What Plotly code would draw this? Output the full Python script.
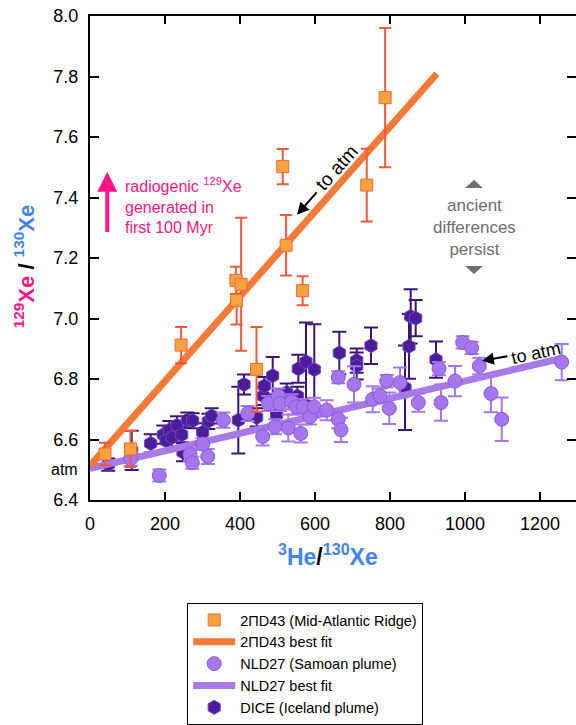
import plotly.graph_objects as go

# ---- 2ΠD43 (Mid-Atlantic Ridge) ----
mar_he = [40, 108, 243, 389, 403, 391, 444, 514, 523, 567, 738, 787]
mar_xe = [6.552, 6.569, 6.912, 7.126, 7.113, 7.060, 6.832, 7.502, 7.242, 7.092, 7.441, 7.730]
mar_err = [0.037, 0.060, 0.060, 0.045, 0.220, 0.080, 0.140, 0.058, 0.100, 0.048, 0.120, 0.230]
mar_fit_he = [0, 925]
mar_fit_xe = [6.513, 7.809]

# ---- NLD27 (Samoan plume) ----
sam_he = [108.5, 184.8, 266.7, 272.8, 300.5, 313.9, 355.5, 420.5, 460.5, 475.5,
          493.3, 502.0, 506.7, 528.8, 537.9, 549.3, 561.9, 568.8, 586.7, 597.3,
          631.2, 662.1, 669.3, 662.1, 704.0, 753.9, 773.3, 791.2, 798.1, 826.7,
          875.5, 930.7, 936.0, 973.3, 993.9, 1017.9, 1038.1, 1069.3, 1097.9, 1257.9]
sam_xe = [6.536, 6.481, 6.550, 6.523, 6.585, 6.544, 6.664, 6.686, 6.610, 6.719,
          6.642, 6.744, 6.719, 6.638, 6.725, 6.708, 6.620, 6.708, 6.675, 6.708,
          6.697, 6.667, 6.632, 6.806, 6.782, 6.733, 6.744, 6.793, 6.703, 6.788,
          6.722, 6.834, 6.722, 6.793, 6.921, 6.903, 6.843, 6.752, 6.667, 6.856]
sam_err = [0.023, 0.020, 0.020, 0.020, 0.020, 0.025, 0.025, 0.025, 0.030, 0.025,
           0.025, 0.025, 0.025, 0.045, 0.025, 0.025, 0.030, 0.025, 0.025, 0.030,
           0.033, 0.030, 0.040, 0.020, 0.060, 0.043, 0.025, 0.020, 0.052, 0.050,
           0.030, 0.022, 0.060, 0.050, 0.020, 0.020, 0.027, 0.062, 0.072, 0.060]
sam_fit_he = [0, 1258]
sam_fit_xe = [6.505, 6.868]

# ---- DICE (Iceland plume) ----
ice_he = [48.8, 111.2, 161.9, 195.5, 202.7, 211.5, 218.7, 232.0, 244.5, 248.0,
          259.5, 273.9, 300.5, 315.5, 324.5, 395.5, 410.7, 444.5, 462.1, 464.8,
          487.2, 497.9, 524.5, 552.8, 555.5, 576.0, 598.1, 664.8, 711.2, 711.2,
          749.3, 840.0, 850.7, 855.2, 868.5, 922.7]
ice_xe = [6.517, 6.564, 6.587, 6.616, 6.596, 6.631, 6.607, 6.647, 6.616, 6.558,
          6.664, 6.662, 6.624, 6.660, 6.678, 6.664, 6.782, 6.673, 6.744, 6.777,
          6.811, 6.682, 6.755, 6.744, 6.834, 6.857, 6.831, 6.886, 6.861, 6.843,
          6.910, 6.771, 6.908, 7.007, 7.001, 6.864]
ice_err = [0.020, 0.065, 0.030, 0.030, 0.030, 0.030, 0.030, 0.030, 0.025, 0.030,
           0.025, 0.025, 0.030, 0.025, 0.025, 0.110, 0.033, 0.030, 0.030, 0.030,
           0.062, 0.030, 0.030, 0.030, 0.046, 0.130, 0.150, 0.070, 0.040, 0.045,
           0.060, 0.140, 0.107, 0.090, 0.060, 0.060]

# axis ticks
x_ticks = [0, 200, 400, 600, 800, 1000, 1200]
y_ticks = [6.4, 6.6, 6.8, 7.0, 7.2, 7.4, 7.6, 7.8, 8.0]

FONT = "Liberation Sans, Arial, Helvetica, sans-serif"
PINK = "#ff1585"
BLUE = "#4383f0"
ORANGE_FILL = "#f6a23e"
ORANGE_EDGE = "#f0683c"
ORANGE_ERR = "#f05a3a"
ORANGE_LINE = "#f47a38"
LAV_FILL = "#a577ec"
LAV_EDGE = "#8a5bd8"
LAV_LINE = "#a87ae8"
DICE_FILL = "#4b1d98"
DICE_EDGE = "#6c43c4"
DICE_ERR = "#3c1478"

fig = go.Figure()

fig.add_trace(go.Scatter(
    x=ice_he, y=ice_xe, mode="markers", name="DICE (Iceland plume)",
    marker=dict(symbol="hexagon", size=14, color=DICE_FILL,
                line=dict(color=DICE_EDGE, width=1)),
    error_y=dict(type="data", array=ice_err, color=DICE_ERR, thickness=2, width=7),
    legendrank=5,
))
fig.add_trace(go.Scatter(
    x=sam_fit_he, y=sam_fit_xe, mode="lines", name="NLD27 best fit",
    line=dict(color=LAV_LINE, width=7), legendrank=4,
))
fig.add_trace(go.Scatter(
    x=sam_he, y=sam_xe, mode="markers", name="NLD27 (Samoan plume)",
    marker=dict(symbol="circle", size=14, color=LAV_FILL,
                line=dict(color=LAV_EDGE, width=1)),
    error_y=dict(type="data", array=sam_err, color=LAV_FILL, thickness=2, width=7),
    legendrank=3,
))
fig.add_trace(go.Scatter(
    x=mar_fit_he, y=mar_fit_xe, mode="lines", name="2ΠD43 best fit",
    line=dict(color=ORANGE_LINE, width=7), legendrank=2,
))
fig.add_trace(go.Scatter(
    x=mar_he, y=mar_xe, mode="markers", name="2ΠD43 (Mid-Atlantic Ridge)",
    marker=dict(symbol="square", size=12, color=ORANGE_FILL,
                line=dict(color=ORANGE_EDGE, width=1)),
    error_y=dict(type="data", array=mar_err, color=ORANGE_ERR, thickness=2, width=6),
    legendrank=1,
))
# empty trace carrying the right-hand tick axis
fig.add_trace(go.Scatter(x=[None], y=[None], yaxis="y2", showlegend=False,
                         hoverinfo="skip"))

axis_common = dict(showgrid=False, zeroline=False, ticks="inside", tickwidth=2,
                   tickcolor="black", tickfont=dict(family=FONT, size=18, color="black"))

fig.update_layout(
    width=576, height=725,
    margin=dict(l=90, r=0, t=16, b=222),
    paper_bgcolor="white", plot_bgcolor="white",
    font=dict(family=FONT, color="black"),
    xaxis=dict(range=[0, 1296], tickvals=x_ticks, ticklen=8, showline=True,
               linewidth=2, linecolor="black", mirror="ticks",
               ticklabelstandoff=6, **axis_common),
    yaxis=dict(range=[6.4, 8.0], tickvals=y_ticks, tickformat=".1f", ticklen=9,
               showline=True, linewidth=2, linecolor="black", mirror=False,
               ticklabelstandoff=6, **axis_common),
    yaxis2=dict(range=[6.4, 8.0], tickvals=y_ticks, overlaying="y", side="right",
                ticklen=9, showline=False, showticklabels=False, **axis_common),
    legend=dict(x=0.2, y=-0.214, xanchor="left", yanchor="top",
                bordercolor="black", borderwidth=1, bgcolor="white",
                font=dict(family=FONT, size=14.5, color="black"),
                itemwidth=42, traceorder="normal"),
    showlegend=True,
)

annotations = [
    # axis titles
    dict(xref="paper", yref="paper", x=0.49, y=-0.113, xanchor="center", yanchor="middle",
         showarrow=False, font=dict(family=FONT, size=23),
         text=f"<b><span style='color:{BLUE}'><sup>3</sup>He</span>/"
              f"<span style='color:{BLUE}'><sup>130</sup>Xe</span></b>"),
    dict(xref="paper", yref="paper", x=-0.134, y=0.4825, xanchor="center", yanchor="middle",
         showarrow=False, textangle=-90, font=dict(family=FONT, size=22),
         text=f"<b><span style='color:{PINK}'><sup>129</sup>Xe</span> / "
              f"<span style='color:{BLUE}'><sup>130</sup>Xe</span></b>"),
    # atmospheric ratio marker on the y axis
    dict(xref="paper", yref="y", x=0, y=6.5, xanchor="right", yanchor="middle",
         xshift=-10, showarrow=False, text="atm", font=dict(family=FONT, size=16)),
    # radiogenic 129Xe arrow
    dict(x=46, y=7.485, ax=46, ay=7.281, axref="x", ayref="y", text="",
         showarrow=True, arrowhead=2, arrowsize=1, arrowwidth=4, arrowcolor=PINK),
    dict(x=88, y=7.373, xanchor="left", yanchor="middle", align="left",
         showarrow=False, font=dict(family=FONT, size=16, color=PINK),
         text="radiogenic <sup>129</sup>Xe<br>generated in<br>first 100 Myr"),
    # "to atm" along the MAR trend
    dict(x=552, y=7.343, ax=608, ay=7.422, axref="x", ayref="y", text="",
         showarrow=True, arrowhead=2, arrowsize=1.2, arrowwidth=2, arrowcolor="black"),
    dict(x=658, y=7.500, showarrow=False, textangle=-48.5,
         font=dict(family=FONT, size=19), text="to atm"),
    # "to atm" along the Samoan trend
    dict(x=1045, y=6.860, ax=1117, ay=6.876, axref="x", ayref="y", text="",
         showarrow=True, arrowhead=2, arrowsize=1.2, arrowwidth=2, arrowcolor="black"),
    dict(x=1190, y=6.885, showarrow=False, textangle=-12,
         font=dict(family=FONT, size=18), text="to atm"),
    # gap between the two trends
    dict(x=1024, y=7.313, yshift=-4, showarrow=False, align="center",
         font=dict(family=FONT, size=17, color="#6e6e6e"),
         text="ancient<br>differences<br>persist"),
]
fig.update_layout(annotations=annotations)

# small gray triangles above and below the "ancient differences persist" note
fig.update_layout(shapes=[
    dict(type="path", xref="x", yref="y", xsizemode="pixel", ysizemode="pixel",
         xanchor=1024, yanchor=7.445, path="M -9,-4 L 9,-4 L 0,4 Z",
         fillcolor="#707070", line=dict(width=0)),
    dict(type="path", xref="x", yref="y", xsizemode="pixel", ysizemode="pixel",
         xanchor=1024, yanchor=7.160, path="M -9,4 L 9,4 L 0,-4 Z",
         fillcolor="#707070", line=dict(width=0)),
])

fig.write_html("out.html")
